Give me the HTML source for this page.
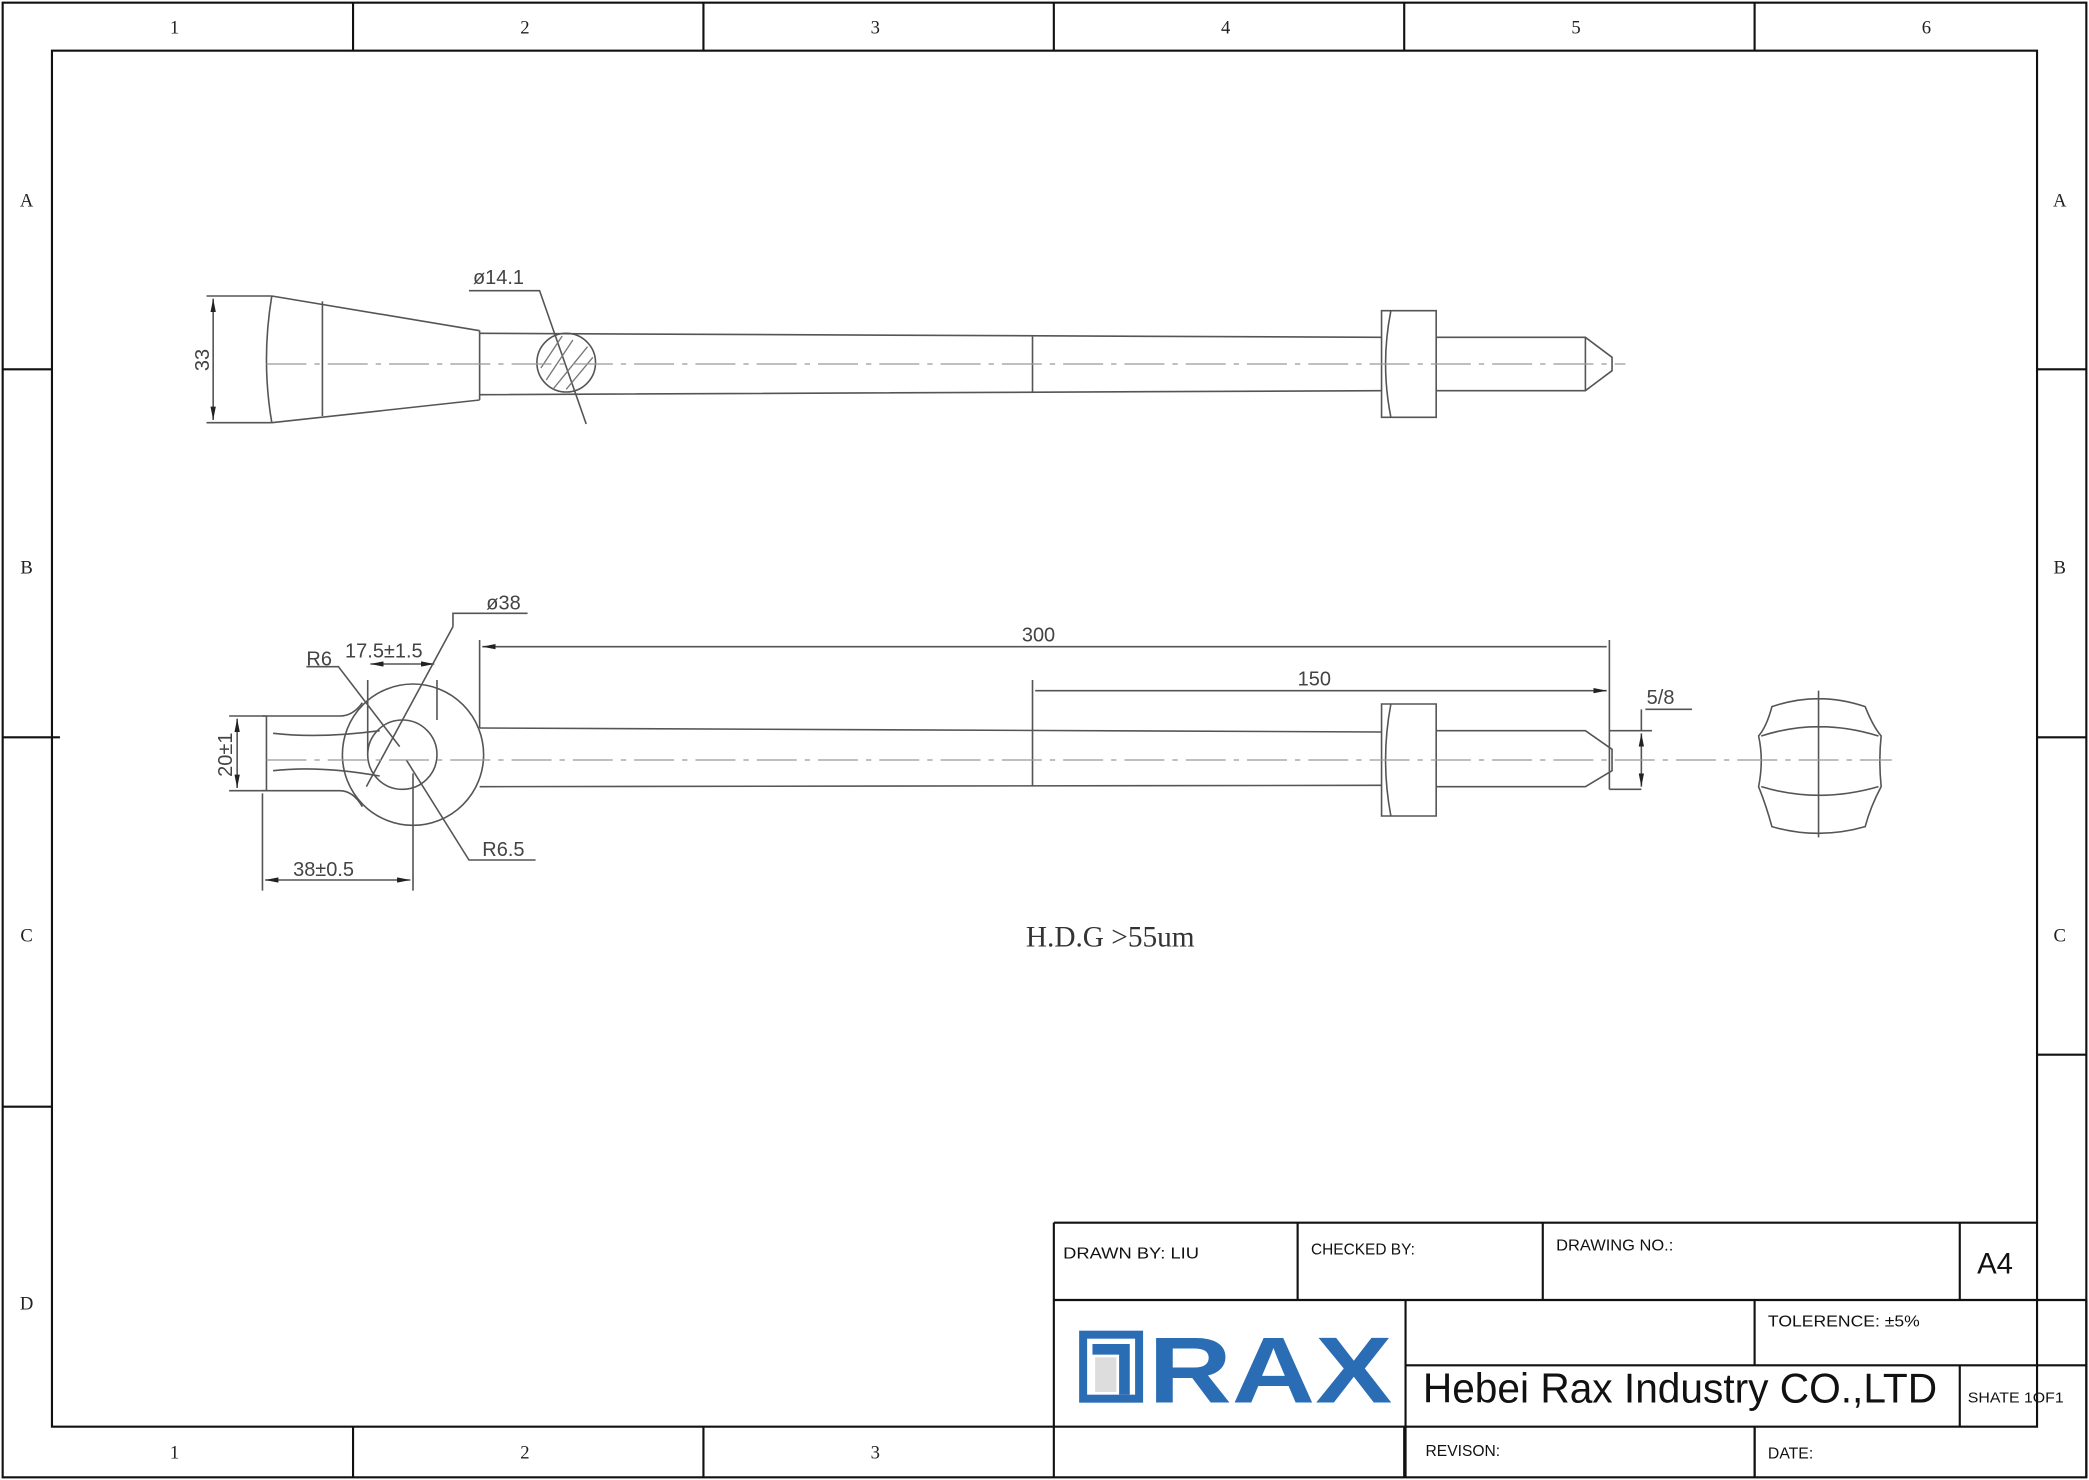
<!DOCTYPE html>
<html><head><meta charset="utf-8"><style>
html,body{margin:0;padding:0;background:#fff;}
svg{display:block;}
.t{font-family:"Liberation Sans",sans-serif;}
.s{font-family:"Liberation Serif",serif;}
</style></head><body>
<svg width="2089" height="1480" viewBox="0 0 1568 1110" preserveAspectRatio="none" xmlns="http://www.w3.org/2000/svg">
<defs>
<marker id="a" viewBox="0 0 10 4" refX="10" refY="2" markerWidth="10" markerHeight="4" markerUnits="userSpaceOnUse" orient="auto-start-reverse"><path d="M0 0L10 2L0 4Z" fill="#222"/></marker>
</defs>
<rect width="1568" height="1110" fill="#fff"/>
<g stroke="#111" stroke-width="1.6" fill="none">
<rect x="2" y="2" width="1564" height="1106"/>
<rect x="39" y="38" width="1490" height="1032"/>
<path d="M265 2V38M528 2V38M791 2V38M1054 2V38M1317 2V38"/>
<path d="M265 1070V1108M528 1070V1108M791 1070V1108M1054 1070V1108M1317 1070V1108"/>
<path d="M2 277H39M2 553H45M2 830H39"/>
<path d="M1529 277H1566M1529 553H1566M1529 791H1566"/>
<path d="M791 917H1529M791 917V1070M974 917V975M1158 917V975M1471 917V975M791 975H1566M1566 975V1108M1055 975V1108M1317 975V1024M1055 1024H1566M1471 1024V1070M1317 1070V1108"/>
</g>
<g class="s" font-size="14" fill="#222" text-anchor="middle">
<text x="131" y="25">1</text><text x="394" y="25">2</text><text x="657" y="25">3</text><text x="920" y="25">4</text><text x="1183" y="25">5</text><text x="1446" y="25">6</text>
<text x="131" y="1094">1</text><text x="394" y="1094">2</text><text x="657" y="1094">3</text>
<text x="20" y="155">A</text><text x="20" y="430">B</text><text x="20" y="706">C</text><text x="20" y="982">D</text>
<text x="1546" y="155">A</text><text x="1546" y="430">B</text><text x="1546" y="706">C</text>
</g>
<g class="t" fill="#111" font-size="12">
<text x="798" y="944" textLength="102" lengthAdjust="spacingAndGlyphs">DRAWN BY:   LIU</text>
<text x="984" y="941" textLength="78" lengthAdjust="spacingAndGlyphs">CHECKED BY:</text>
<text x="1168" y="938" textLength="88" lengthAdjust="spacingAndGlyphs">DRAWING NO.:</text>
<text x="1484" y="955" font-size="22">A4</text>
<text x="1327" y="995" textLength="114" lengthAdjust="spacingAndGlyphs">TOLERENCE:   ±5%</text>
<text x="1068" y="1052" font-size="31" textLength="386" lengthAdjust="spacingAndGlyphs">Hebei Rax Industry CO.,LTD</text>
<text x="1477" y="1052" font-size="11" textLength="72" lengthAdjust="spacingAndGlyphs">SHATE 1OF1</text>
<text x="1070" y="1092" textLength="56" lengthAdjust="spacingAndGlyphs">REVISON:</text>
<text x="1327" y="1094" textLength="34" lengthAdjust="spacingAndGlyphs">DATE:</text>
</g>
<g fill="#2a6db5">
<rect x="810" y="998" width="48" height="54"/>
<rect x="816" y="1004" width="36" height="42" fill="#fff"/>
<path d="M820 1008H848V1046H840V1016H820Z"/>
<rect x="822" y="1018" width="16" height="26" fill="#ddd"/>
<text x="862" y="1052" class="t" font-size="70" font-weight="bold" textLength="183" lengthAdjust="spacingAndGlyphs">RAX</text>
</g>
<g stroke="#555" stroke-width="1.2" fill="none">
<path d="M204 222Q196 270 204 317M204 222L360 248M204 317L360 300M242 226V312M360 248V300"/>
<path d="M360 250L1037 253M360 296L1037 293M775 252V294"/>
<path d="M1037 233H1078V313H1037ZM1044 233Q1036 273 1044 313"/>
<path d="M1078 253H1190L1210 268V278L1190 293H1078M1190 253V293"/>
<path d="M155 222H204M155 317H204"/>
<path d="M160 224V315" marker-start="url(#a)" marker-end="url(#a)"/>
<circle cx="425" cy="272" r="22"/>
<path d="M352 218H405L440 318"/>
</g>
<g stroke="#777" stroke-width="1"><path d="M410 285L430 255M415 292L441 260M406 276L422 252M425 292L445 268"/></g>
<path d="M200 273H1220" stroke="#999" stroke-width="1" stroke-dasharray="30 6 4 6"/>
<g class="t" fill="#444" font-size="15">
<text x="355" y="213">ø14.1</text>
<text x="157" y="270" transform="rotate(-90 157 270)" text-anchor="middle">33</text>
</g>
<g stroke="#555" stroke-width="1.2" fill="none">
<circle cx="310" cy="566" r="53"/>
<circle cx="302" cy="566" r="26"/>
<path d="M197 537H255Q265 537 272 527M197 593H255Q265 593 272 605M200 537V593"/>
<path d="M205 550Q240 554 285 548M205 578Q240 574 285 582"/>
<path d="M360 546L1037 549M360 590L1037 589M775 510V590"/>
<path d="M1037 528H1078V612H1037ZM1044 528Q1036 570 1044 612"/>
<path d="M1078 548H1190L1210 562V578L1190 590H1078"/>
<path d="M360 480V546M1208 480V592M1208 592H1232M1208 548H1240"/>
<path d="M362 485H1206M777 518H1206" marker-start="url(#a)" marker-end="url(#a)"/>
<path d="M1232 550V590" marker-start="url(#a)" marker-end="url(#a)"/>
<path d="M1235 532H1270M1232 532V548"/>
<path d="M178 539V591" marker-start="url(#a)" marker-end="url(#a)"/>
<path d="M172 537H200M172 593H200"/>
<path d="M197 595V668M310 580V668"/>
<path d="M199 660H308" marker-start="url(#a)" marker-end="url(#a)"/>
<path d="M276 510V566M328 510V540"/>
<path d="M278 498H326" marker-start="url(#a)" marker-end="url(#a)"/>
<path d="M275 590L340 470M340 470V460H396"/>
<path d="M230 500H254L300 560M305 570L352 645H402"/>
<path d="M1330 530Q1365 518 1400 530Q1406 545 1412 552Q1410 570 1412 590Q1404 605 1400 620Q1365 630 1330 620Q1326 605 1320 590Q1324 570 1320 552Q1326 545 1330 530ZM1322 552Q1365 538 1410 552M1322 590Q1365 603 1410 590M1365 518V628"/>
</g>
<path d="M200 570H1420" stroke="#999" stroke-width="1" stroke-dasharray="30 6 4 6"/>
<g class="t" fill="#444" font-size="15">
<text x="365" y="457">ø38</text>
<text x="767" y="481">300</text>
<text x="974" y="514">150</text>
<text x="1236" y="528">5/8</text>
<text x="230" y="499">R6</text>
<text x="259" y="493">17.5±1.5</text>
<text x="362" y="642">R6.5</text>
<text x="220" y="657">38±0.5</text>
<text x="174" y="566" transform="rotate(-90 174 566)" text-anchor="middle">20±1</text>
</g>
<text x="770" y="710" class="s" font-size="22" fill="#333">H.D.G &gt;55um</text>
</svg>
</body></html>
